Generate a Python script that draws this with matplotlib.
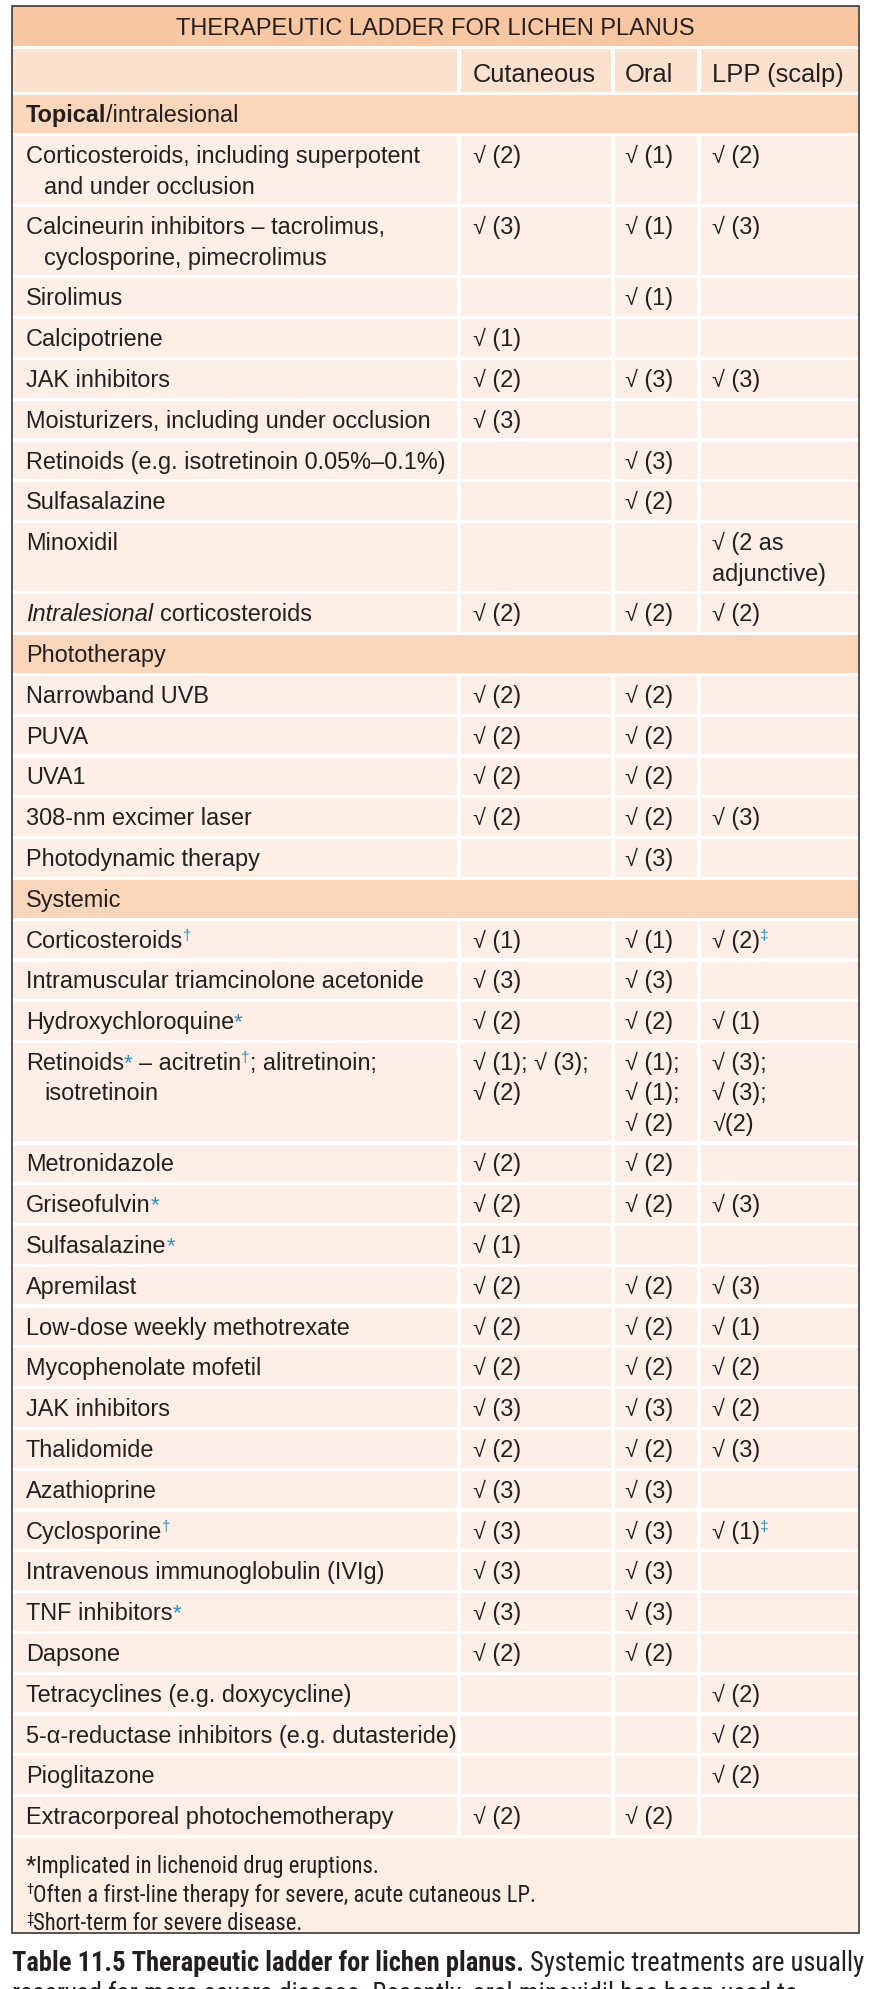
import re
import matplotlib
matplotlib.use("Agg")
import matplotlib.pyplot as plt
from matplotlib import font_manager as fm
from matplotlib.patches import Rectangle

# ---- table content ----
title = "THERAPEUTIC LADDER FOR LICHEN PLANUS"
columns = ["Cutaneous", "Oral", "LPP (scalp)"]

# markup: ^x = superscript, <i>..</i> italic, <b>..</b> bold, \n = new line
topical_labels = [
    "Corticosteroids, including superpotent\nand under occlusion",
    "Calcineurin inhibitors – tacrolimus,\ncyclosporine, pimecrolimus",
    "Sirolimus",
    "Calcipotriene",
    "JAK inhibitors",
    "Moisturizers, including under occlusion",
    "Retinoids (e.g. isotretinoin 0.05%–0.1%)",
    "Sulfasalazine",
    "Minoxidil",
    "<i>Intralesional</i> corticosteroids",
]
topical_cut = ["√ (2)", "√ (3)", "", "√ (1)", "√ (2)", "√ (3)", "", "", "", "√ (2)"]
topical_oral = ["√ (1)", "√ (1)", "√ (1)", "", "√ (3)", "", "√ (3)", "√ (2)", "", "√ (2)"]
topical_lpp = ["√ (2)", "√ (3)", "", "", "√ (3)", "", "", "", "√ (2 as\nadjunctive)", "√ (2)"]

photo_labels = ["Narrowband UVB", "PUVA", "UVA1", "308-nm excimer laser", "Photodynamic therapy"]
photo_cut = ["√ (2)", "√ (2)", "√ (2)", "√ (2)", ""]
photo_oral = ["√ (2)", "√ (2)", "√ (2)", "√ (2)", "√ (3)"]
photo_lpp = ["", "", "", "√ (3)", ""]

systemic_labels = [
    "Corticosteroids^†",
    "Intramuscular triamcinolone acetonide",
    "Hydroxychloroquine^*",
    "Retinoids^* – acitretin^†; alitretinoin;\nisotretinoin",
    "Metronidazole",
    "Griseofulvin^*",
    "Sulfasalazine^*",
    "Apremilast",
    "Low-dose weekly methotrexate",
    "Mycophenolate mofetil",
    "JAK inhibitors",
    "Thalidomide",
    "Azathioprine",
    "Cyclosporine^†",
    "Intravenous immunoglobulin (IVIg)",
    "TNF inhibitors^*",
    "Dapsone",
    "Tetracyclines (e.g. doxycycline)",
    "5-α-reductase inhibitors (e.g. dutasteride)",
    "Pioglitazone",
    "Extracorporeal photochemotherapy",
]
systemic_cut = ["√ (1)", "√ (3)", "√ (2)", "√ (1); √ (3);\n√ (2)", "√ (2)", "√ (2)", "√ (1)",
                "√ (2)", "√ (2)", "√ (2)", "√ (3)", "√ (2)", "√ (3)", "√ (3)", "√ (3)",
                "√ (3)", "√ (2)", "", "", "", "√ (2)"]
systemic_oral = ["√ (1)", "√ (3)", "√ (2)", "√ (1);\n√ (1);\n√ (2)", "√ (2)", "√ (2)", "",
                 "√ (2)", "√ (2)", "√ (2)", "√ (3)", "√ (2)", "√ (3)", "√ (3)", "√ (3)",
                 "√ (3)", "√ (2)", "", "", "", "√ (2)"]
systemic_lpp = ["√ (2)^‡", "", "√ (1)", "√ (3);\n√ (3);\n√(2)", "", "√ (3)", "",
                "√ (3)", "√ (1)", "√ (2)", "√ (2)", "√ (3)", "", "√ (1)^‡", "",
                "", "", "√ (2)", "√ (2)", "√ (2)", ""]

sections = [
    ("<b>Topical</b>/intralesional", topical_labels, topical_cut, topical_oral, topical_lpp),
    ("Phototherapy", photo_labels, photo_cut, photo_oral, photo_lpp),
    ("Systemic", systemic_labels, systemic_cut, systemic_oral, systemic_lpp),
]

footnotes = [
    "^*Implicated in lichenoid drug eruptions.",
    "^†Often a first-line therapy for severe, acute cutaneous LP.",
    "^‡Short-term for severe disease.",
]
caption_bold = "Table 11.5 Therapeutic ladder for lichen planus."
caption_rest = [" Systemic treatments are usually",
                "reserved for more severe disease. Recently, oral minoxidil has been used to"]

# ---- style ----
W, H = 874, 1990
SANS = ["Liberation Sans", "DejaVu Sans"]
INK = "#231f20"
TEAL = "#2a8fc1"
TITLE_BG = "#f8c6a0"
HEAD_BG = "#fce2ce"
SEC_BG = "#fad6bb"
ROW_BG = "#fdefe6"
FOOT_BG = "#fdeee4"

# pick a condensed face for footnotes / caption if one is installed
installed = {f.name for f in fm.fontManager.ttflist}
NARROW, STRETCH = SANS, "normal"
for cand in ["Liberation Sans Narrow", "Roboto Condensed", "Open Sans Condensed",
             "Noto Sans Condensed", "DejaVu Sans Condensed", "Arial Narrow"]:
    if cand in installed:
        NARROW = [cand] + SANS
        break
else:
    for f in fm.fontManager.ttflist:
        if f.name in ("Noto Sans", "Roboto", "Open Sans", "DejaVu Sans") and "condensed" in str(f.stretch):
            NARROW, STRETCH = [f.name] + SANS, "condensed"
            break

LEFT, RIGHT, TOP = 12, 859, 7
col_edges = [LEFT, 459, 613, 699, RIGHT]
col_text_x = [26, 473, 625, 712]
GAP = 3.2
LINE = 30.3          # extra height per wrapped line
ROW = 37.6           # single row height
DATA_FS = 16.9

fig = plt.figure(figsize=(W / 100, H / 100), dpi=100)
ax = fig.add_axes([0, 0, 1, 1])
ax.set_xlim(0, W)
ax.set_ylim(H, 0)
ax.axis("off")
R = fig.canvas.get_renderer()

TOKEN = re.compile(r"(\^.|<i>.*?</i>|<b>.*?</b>)")
_space = {}


def measure(s, **style):
    t = ax.text(0, 0, s, **style)
    w = t.get_window_extent(renderer=R).width
    t.remove()
    return w


def space_width(style):
    key = tuple(sorted((k, str(v)) for k, v in style.items()))
    if key not in _space:
        _space[key] = measure("n n", **style) - measure("nn", **style)
    return _space[key]


def rich(x, y, s, size, family=SANS, color=INK, sup_color=TEAL, indent=0, lead=LINE,
         stretch="normal", star=0.95):
    for i, line in enumerate(s.split("\n")):
        cx = x + (indent if i else 0)
        cy = y + i * lead
        for tok in TOKEN.split(line):
            if not tok:
                continue
            style = dict(family=family, fontsize=size, color=color, fontstretch=stretch)
            dy = 0
            if tok.startswith("^"):
                tok = tok[1:]
                if tok == "*":
                    style.update(fontsize=size * star, color=sup_color)
                    dy = -1
                else:
                    style.update(fontsize=size * 0.66, color=sup_color)
                    dy = -size / 0.72 * 0.33
            elif tok.startswith("<i>"):
                tok = tok[3:-4]
                style["style"] = "italic"
            elif tok.startswith("<b>"):
                tok = tok[3:-4]
                style["weight"] = "bold"
            sp = space_width(style)
            core = tok.strip(" ")
            cx += (len(tok) - len(tok.lstrip(" "))) * sp
            if core:
                t = ax.text(cx, cy + dy, core, va="baseline", ha="left", **style)
                cx += t.get_window_extent(renderer=R).width
            cx += (len(tok) - len(tok.rstrip(" "))) * sp


def band(y, h, color):
    ax.add_patch(Rectangle((LEFT, y), RIGHT - LEFT, h, facecolor=color, edgecolor="none"))


def cells(y, h, color):
    for i in range(4):
        x0 = col_edges[i] + (GAP / 2 if i > 0 else 0)
        x1 = col_edges[i + 1] - (GAP / 2 if i < 3 else 0)
        ax.add_patch(Rectangle((x0, y), x1 - x0, h, facecolor=color, edgecolor="none"))


# title
y = TOP
band(y, 40, TITLE_BG)
ax.text((LEFT + RIGHT) / 2, y + 28, title, ha="center", va="baseline",
        family=SANS, fontsize=17, color=INK)
y += 40 + GAP

# header
cells(y, 43, HEAD_BG)
for i, name in enumerate(columns):
    ax.text(col_text_x[i + 1], y + 32, name, ha="left", va="baseline",
            family=SANS, fontsize=18.4, color=INK)
y += 43 + GAP

# sections
for sec_name, labels, cut, oral, lpp in sections:
    band(y, ROW, SEC_BG)
    rich(col_text_x[0], y + 26, sec_name, DATA_FS)
    y += ROW + GAP
    for k, lab in enumerate(labels):
        vals = [cut[k], oral[k], lpp[k]]
        n = max(s.count("\n") + 1 for s in [lab] + vals)
        h = ROW + LINE * (n - 1)
        cells(y, h, ROW_BG)
        rich(col_text_x[0], y + 26, lab, DATA_FS, indent=18)
        for i, v in enumerate(vals):
            if v:
                rich(col_text_x[i + 1], y + 26, v, DATA_FS)
        y += h + GAP

# footnotes: size chosen so the first note spans roughly as in the print
foot_h = 1934 - y
band(y, foot_h, FOOT_BG)
fw = measure("Implicated in lichenoid drug eruptions.", family=NARROW, fontsize=10,
             fontstretch=STRETCH)
foot_fs = 10 * 340 / fw
for k, f in enumerate(footnotes):
    rich(col_text_x[0], y + 34 + k * 28.7, f, foot_fs, family=NARROW, sup_color=INK,
         stretch=STRETCH, star=1.05)

# outer frame
ax.add_patch(Rectangle((LEFT, TOP), RIGHT - LEFT, 1934 - TOP, facecolor="none",
                       edgecolor="#3a3a3a", linewidth=1.2))

# caption: first line fitted to the frame width; second line runs off the page edge
cw = (measure(caption_bold, family=NARROW, fontsize=10, weight="bold", fontstretch=STRETCH)
      + measure(caption_rest[0], family=NARROW, fontsize=10, fontstretch=STRETCH))
cap_fs = 10 * 850 / cw
caption = "<b>" + caption_bold + "</b>" + caption_rest[0] + "\n" + caption_rest[1]
rich(LEFT, 1971, caption, cap_fs, family=NARROW, lead=31, stretch=STRETCH)

fig.savefig("out.png", dpi=100)
